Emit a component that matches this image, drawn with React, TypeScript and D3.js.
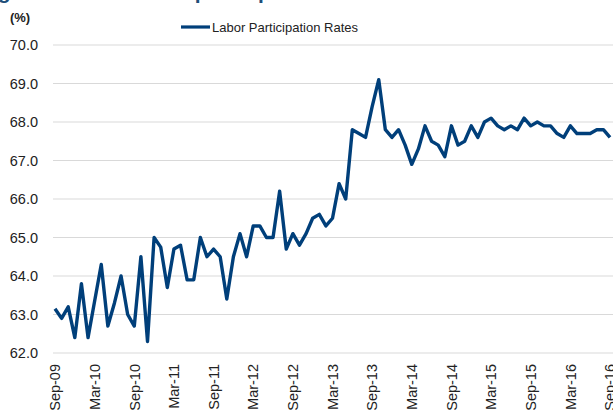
import React from "react";
import * as d3 from "d3";

const seriesName = "Labor Participation Rates";
const participation: number[] = [
  63.15, 62.9, 63.2, 62.4, 63.8, 62.4, 63.35, 64.3, 62.7, 63.3,
  64.0, 63.0, 62.7, 64.5, 62.3, 65.0, 64.75, 63.7, 64.7, 64.8,
  63.9, 63.9, 65.0, 64.5, 64.7, 64.5, 63.4, 64.5, 65.1, 64.5,
  65.3, 65.3, 65.0, 65.0, 66.2, 64.7, 65.1, 64.8, 65.1, 65.5,
  65.6, 65.3, 65.5, 66.4, 66.0, 67.8, 67.7, 67.6, 68.4, 69.1,
  67.8, 67.6, 67.8, 67.4, 66.9, 67.3, 67.9, 67.5, 67.4, 67.1,
  67.9, 67.4, 67.5, 67.9, 67.6, 68.0, 68.1, 67.9, 67.8, 67.9,
  67.8, 68.1, 67.9, 68.0, 67.9, 67.9, 67.7, 67.6, 67.9, 67.7,
  67.7, 67.7, 67.8, 67.8, 67.6,
];
const xTickLabels: string[] = [
  "Sep-09", "Mar-10", "Sep-10", "Mar-11", "Sep-11", "Mar-12", "Sep-12", "Mar-13",
  "Sep-13", "Mar-14", "Sep-14", "Mar-15", "Sep-15", "Mar-16", "Sep-16",
];
const yTicks: number[] = [62, 63, 64, 65, 66, 67, 68, 69, 70];
const titleText = "Figure 3: Labor force participation rate";

const W = 613;
const H = 412;
const FONT = "'Liberation Sans', Arial, Helvetica, sans-serif";
const LINE_COLOR = "#003F7A";

export default function App() {
  const x = d3.scaleLinear().domain([0, participation.length - 1]).range([55, 610]);
  const y = d3.scaleLinear().domain([62, 70]).range([353, 45]);
  const line = d3
    .line<number>()
    .x((_, i) => x(i))
    .y((d) => y(d));
  const fmt = d3.format(".1f");

  return (
    <svg
      width={W}
      height={H}
      viewBox={`0 0 ${W} ${H}`}
      style={{ position: "fixed", left: 0, top: 0, background: "#fff" }}
      fontFamily={FONT}
    >
      <rect x={0} y={0} width={W} height={H} fill="#fff" />
      {/* cropped title (only descenders visible) */}
      <text x={-21} y={-1} fontSize={21} fontWeight="bold" fill="#1F4E79">
        {titleText}
      </text>
      <text x={20} y={22} fontSize={13} fontWeight="bold" fill="#222" textAnchor="middle">
        (%)
      </text>

      {/* legend */}
      <line x1={181} x2={210} y1={27} y2={27} stroke={LINE_COLOR} strokeWidth={3.2} />
      <text x={212} y={27} dy="0.35em" fontSize={13} fill="#222">
        {seriesName}
      </text>

      {/* gridlines */}
      {yTicks.map((t) => (
        <g key={t}>
          <line x1={53} x2={W} y1={y(t)} y2={y(t)} stroke="#D9D9D9" strokeWidth={1.2} />
          <text x={38} y={y(t)} dy="0.36em" textAnchor="end" fontSize={14.5} fill="#222">
            {fmt(t)}
          </text>
        </g>
      ))}

      {/* x labels */}
      {xTickLabels.map((lab, k) => {
        const px = x(k * 6);
        return (
          <text
            key={lab}
            transform={`translate(${px},364) rotate(-90)`}
            dy="0.36em"
            textAnchor="end"
            fontSize={14.5}
            fill="#222"
          >
            {lab}
          </text>
        );
      })}

      <path
        d={line(participation) || ""}
        fill="none"
        stroke={LINE_COLOR}
        strokeWidth={3.4}
        strokeLinejoin="round"
        strokeLinecap="butt"
      />
    </svg>
  );
}
